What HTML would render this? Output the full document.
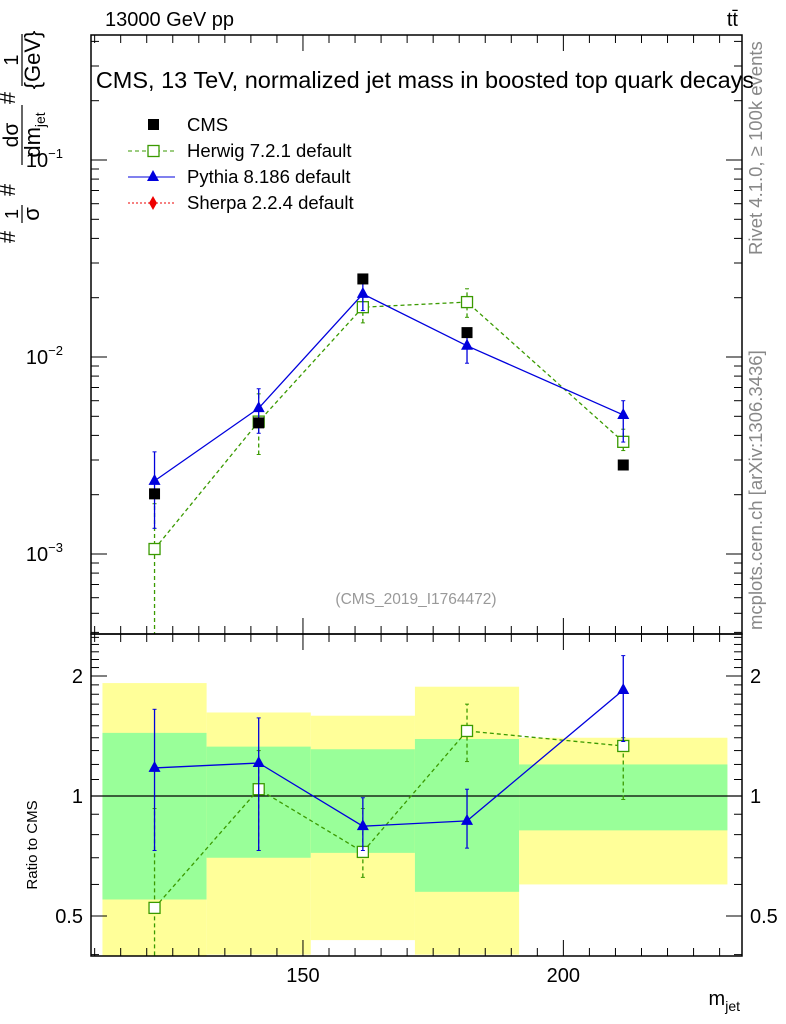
<!DOCTYPE html>
<html><head><meta charset="utf-8"><style>
body{margin:0;background:#fff;}
svg{display:block;font-family:"Liberation Sans",sans-serif;}
</style></head><body>
<svg id="c" width="786" height="1024" xmlns="http://www.w3.org/2000/svg">
<text x="105" y="26" font-size="20">13000 GeV pp</text>
<text x="738" y="26" font-size="20" text-anchor="end">tt̄</text>
<text x="425" y="88" font-size="23.5" text-anchor="middle">CMS, 13 TeV, normalized jet mass in boosted top quark decays</text>
<text x="416" y="604" font-size="15.5" fill="#999" text-anchor="middle">(CMS_2019_I1764472)</text>
<text transform="translate(762,255) rotate(-90)" font-size="18.5" fill="#888">Rivet 4.1.0, ≥ 100k events</text>
<text transform="translate(762,630) rotate(-90)" font-size="18.5" fill="#888">mcplots.cern.ch [arXiv:1306.3436]</text>
<g transform="rotate(-90)" font-size="22">
<text x="-237" y="15" text-anchor="middle">#</text>
<text x="-214" y="18" text-anchor="middle" font-size="18">1</text>
<line x1="-223" x2="-205" y1="22" y2="22" stroke="#000" stroke-width="1.2"/>
<text x="-214" y="39" text-anchor="middle">σ</text>
<text x="-190" y="15" text-anchor="middle">#</text>
<text x="-135" y="18" text-anchor="middle" font-size="21">dσ</text>
<line x1="-165" x2="-105" y1="22" y2="22" stroke="#000" stroke-width="1.2"/>
<text x="-135" y="40" text-anchor="middle">dm<tspan font-size="14" dy="5">jet</tspan></text>
<text x="-98" y="15" text-anchor="middle">#</text>
<text x="-60" y="18" text-anchor="middle" font-size="20">1</text>
<line x1="-86" x2="-34" y1="22" y2="22" stroke="#000" stroke-width="1.2"/>
<text x="-60" y="40" text-anchor="middle">{GeV}</text>
</g>
<text transform="translate(37,845) rotate(-90)" font-size="15" text-anchor="middle">Ratio to CMS</text>
<text x="740" y="1005" font-size="20" text-anchor="end">m<tspan font-size="14" dy="6">jet</tspan></text>
<g id="g"></g>
</svg>
<script>
const edges=[111.5,131.5,151.5,171.5,191.5,231.5];
const centers=[121.5,141.5,161.5,181.5,211.5];
const cmsVals=[0.00202,0.00463,0.0249,0.0133,0.00283];
const herwigVals=[0.00106,0.0047,0.0179,0.0190,0.00371];
const herwigLo=[0.0003,0.0032,0.0149,0.0159,0.00335];
const herwigHi=[0.0018,0.0065,0.0203,0.0222,0.0043];
const pythiaVals=[0.00235,0.0055,0.0209,0.0114,0.00508];
const pythiaLo=[0.00135,0.0041,0.0172,0.0093,0.0037];
const pythiaHi=[0.0033,0.0069,0.025,0.0128,0.006];
const herwigRatio=[0.524,1.04,0.724,1.456,1.335];
const herwigRatioLo=[0.3,0.73,0.625,1.22,0.98];
const herwigRatioHi=[0.93,1.3,0.93,1.7,1.4];
const pythiaRatio=[1.176,1.21,0.84,0.866,1.845];
const pythiaRatioLo=[0.73,0.73,0.73,0.74,1.37];
const pythiaRatioHi=[1.65,1.57,0.99,1.04,2.25];
const yellowLo=[0.35,0.4,0.435,0.4,0.6];
const yellowHi=[1.92,1.62,1.59,1.88,1.4];
const greenLo=[0.55,0.7,0.72,0.575,0.82];
const greenHi=[1.44,1.33,1.31,1.39,1.2];
const mainTicks=[0.1,0.01,0.001];
const mainTickLabels=["10","10","10"];
const mainTickExp=["−1","−2","−3"];
const ratioTicks=[0.5,1,2];
const ratioTickLabels=["0.5","1","2"];
const xTicks=[150,200];
const xTickLabels=["150","200"];

const L=91,R=742,T=35,M=634,B=956;
const xs=v=>L+(v-109.3)/(234.3-109.3)*(R-L);
const ys=v=>160-(Math.log10(v)+1)*197;
const yr=v=>796-Math.log2(v)*120;
const g=document.getElementById('g');
const NS="http://www.w3.org/2000/svg";
function el(t,a,p){const e=document.createElementNS(NS,t);for(const k in a)e.setAttribute(k,a[k]);(p||g).appendChild(e);return e;}
function clip(id,y0,y1){const c=el('clipPath',{id:id});el('rect',{x:L,y:y0,width:R-L,height:y1-y0},c);}
clip('cm',T,M);clip('cr',M,B);
const gm=el('g',{'clip-path':'url(#cm)'});


const gr=el('g',{'clip-path':'url(#cr)'});



for(let i=0;i<5;i++){
 const x0=xs(edges[i]),x1=xs(edges[i+1]);
 let r=el('rect',{x:x0,y:yr(yellowHi[i]),width:x1-x0,height:yr(yellowLo[i])-yr(yellowHi[i]),fill:'#ffff99'},gr);
 
 
 r=el('rect',{x:x0,y:yr(greenHi[i]),width:x1-x0,height:yr(greenLo[i])-yr(greenHi[i]),fill:'#99ff99'},gr);
 
 
}
el('line',{x1:L,x2:R,y1:yr(1),y2:yr(1),stroke:'#000','stroke-width':1.2},gr);

function series(par,vals,lo,hi,ysc,col,dash,marker,name){
 const pts=centers.map((c,i)=>xs(c)+','+ysc(vals[i])).join(' ');
 const pl=el('polyline',{points:pts,fill:'none',stroke:col,'stroke-width':1.3,'stroke-dasharray':dash},par);
 
 
 centers.forEach((c,i)=>{
  const x=xs(c);
  const e=el('line',{x1:x,x2:x,y1:ysc(lo[i]),y2:ysc(hi[i]),stroke:col,'stroke-width':1.3,'stroke-dasharray':dash},par);
  
  
  el('line',{x1:x-2,x2:x+2,y1:ysc(lo[i]),y2:ysc(lo[i]),stroke:col},par);
  el('line',{x1:x-2,x2:x+2,y1:ysc(hi[i]),y2:ysc(hi[i]),stroke:col},par);
  const y=ysc(vals[i]);let m;
  if(marker==='sq')m=el('rect',{x:x-5.5,y:y-5.5,width:11,height:11,fill:'#fff',stroke:col,'stroke-width':1.3},par);
  else m=el('polygon',{points:`${x},${y-7} ${x-6},${y+4} ${x+6},${y+4}`,fill:col},par);
  
  
 });
}
series(gm,herwigVals,herwigLo,herwigHi,ys,'#3a9a00','4,3','sq','herwig');
series(gm,pythiaVals,pythiaLo,pythiaHi,ys,'#0000dd','','tri','pythia');
cmsVals.forEach((v,i)=>{const r=el('rect',{x:xs(centers[i])-5.5,y:ys(v)-5.5,width:11,height:11,fill:'#000'},gm);
 
 });
series(gr,herwigRatio,herwigRatioLo,herwigRatioHi,yr,'#3a9a00','4,3','sq','herwig-ratio');
series(gr,pythiaRatio,pythiaRatioLo,pythiaRatioHi,yr,'#0000dd','','tri','pythia-ratio');

[[T,M],[M,B]].forEach(([a,b])=>el('rect',{x:L,y:a,width:R-L,height:b-a,fill:'none',stroke:'#000','stroke-width':1.5}));
for(let d=-4;d<0;d++)for(let k=1;k<10;k++){const v=k*Math.pow(10,d);const y=ys(v);if(y<T||y>M)continue;const len=k===1?16:8;
 el('line',{x1:L,x2:L+len,y1:y,y2:y,stroke:'#000'});el('line',{x1:R,x2:R-len,y1:y,y2:y,stroke:'#000'});}
mainTicks.forEach((v,i)=>{const t=el('text',{x:L-28,y:ys(v)+7,'font-size':20,'text-anchor':'end'});
 
 
 t.textContent=mainTickLabels[i];const s=el('tspan',{'font-size':13,dy:-9},t);s.textContent=mainTickExp[i];});
[0.4,0.5,0.6,0.7,0.8,0.9,1,1.1,1.2,1.3,1.4,1.5,1.6,1.7,1.8,1.9,2,2.1,2.2,2.3,2.4,2.5].forEach(v=>{const y=yr(v);if(y<M||y>B)return;const len=(v===0.5||v===1||v===2)?16:8;
 el('line',{x1:L,x2:L+len,y1:y,y2:y,stroke:'#000'});el('line',{x1:R,x2:R-len,y1:y,y2:y,stroke:'#000'});});
ratioTicks.forEach((v,i)=>{[[L-8,'end'],[R+8,'start']].forEach(([x,a])=>{const t=el('text',{x:x,y:yr(v)+7,'font-size':20,'text-anchor':a});
 
 
 t.textContent=ratioTickLabels[i];});});
for(let v=110;v<=230;v+=5){const x=xs(v);const len=v%50===0?16:8;
 [T,M].forEach(y=>el('line',{x1:x,x2:x,y1:y,y2:y+len,stroke:'#000'}));
 [M,B].forEach(y=>el('line',{x1:x,x2:x,y1:y,y2:y-len,stroke:'#000'}));}
xTicks.forEach((v,i)=>{const t=el('text',{x:xs(v),y:982,'font-size':20,'text-anchor':'middle'});
 
 
 t.textContent=xTickLabels[i];});
const leg=[['CMS','cms'],['Herwig 7.2.1 default','herwig'],['Pythia 8.186 default','pythia'],['Sherpa 2.2.4 default','sherpa']];
leg.forEach(([lab,k],i)=>{const y=125+i*26;const lg=el('g',{});
 
 
 if(k==='cms')el('rect',{x:148,y:y-6,width:11,height:11,fill:'#000'},lg);
 if(k==='herwig'){el('line',{x1:128,x2:175,y1:y,y2:y,stroke:'#3a9a00','stroke-dasharray':'4,3'},lg);el('rect',{x:148,y:y-5.5,width:11,height:11,fill:'#fff',stroke:'#3a9a00','stroke-width':1.3},lg);}
 if(k==='pythia'){el('line',{x1:128,x2:175,y1:y,y2:y,stroke:'#0000dd'},lg);el('polygon',{points:`153,${y-7} 147,${y+4} 159,${y+4}`,fill:'#0000dd'},lg);}
 if(k==='sherpa'){el('line',{x1:128,x2:175,y1:y,y2:y,stroke:'#ee0000','stroke-dasharray':'2,2'},lg);el('polygon',{points:`153,${y-7} 157,${y} 153,${y+7} 149,${y}`,fill:'#ee0000'},lg);}
 const t=el('text',{x:187,y:y+6,'font-size':18.5},lg);t.textContent=lab;});
</script>
</body></html>
